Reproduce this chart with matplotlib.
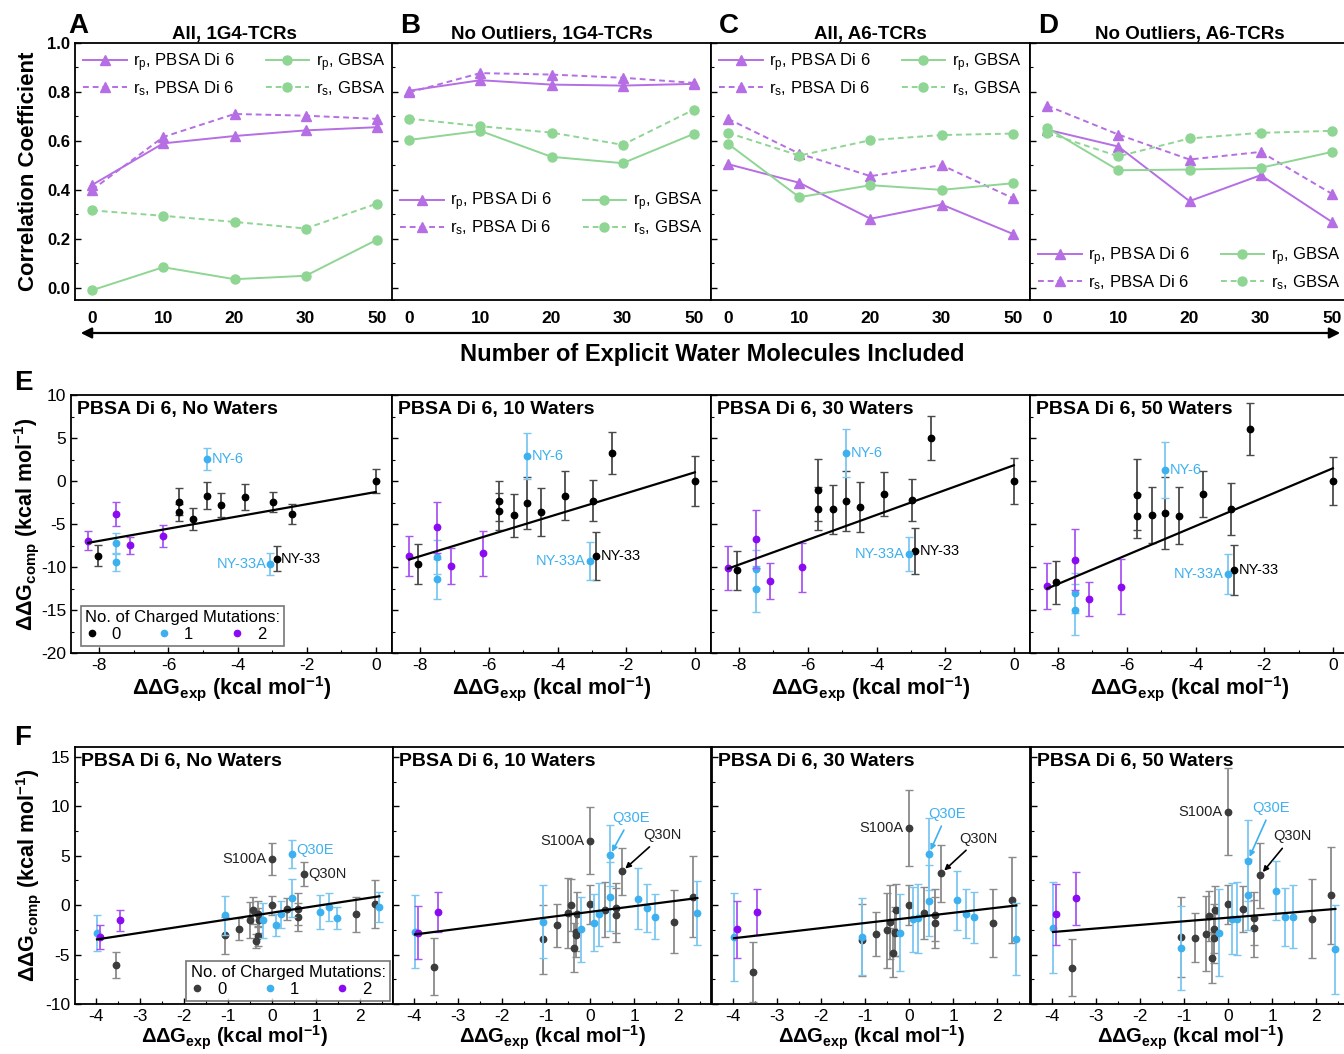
import numpy as np
import matplotlib
matplotlib.use('Agg')
import matplotlib.pyplot as plt
from matplotlib.lines import Line2D
from matplotlib.patches import FancyArrowPatch
from matplotlib.ticker import MultipleLocator, NullFormatter

plt.rcParams['font.family'] = ['Liberation Sans', 'DejaVu Sans']
plt.rcParams['mathtext.fontset'] = 'custom'
plt.rcParams['mathtext.rm'] = 'Liberation Sans'
plt.rcParams['mathtext.it'] = 'Liberation Sans:italic'
plt.rcParams['mathtext.bf'] = 'Liberation Sans:bold'
plt.rcParams['axes.unicode_minus'] = False

# ---------------- Row 1 data (correlation coefficients) ----------------
water_labels = ['0', '10', '20', '30', '50']
corr_titles = ['All, 1G4-TCRs', 'No Outliers, 1G4-TCRs', 'All, A6-TCRs', 'No Outliers, A6-TCRs']
corr_letters = ['A', 'B', 'C', 'D']

A_rp_pbsa = [0.42, 0.59, 0.62, 0.643, 0.656]
A_rs_pbsa = [0.40, 0.616, 0.71, 0.703, 0.69]
A_rp_gbsa = [-0.01, 0.084, 0.035, 0.049, 0.196]
A_rs_gbsa = [0.316, 0.294, 0.269, 0.242, 0.344]

B_rp_pbsa = [0.805, 0.848, 0.83, 0.826, 0.833]
B_rs_pbsa = [0.798, 0.877, 0.871, 0.858, 0.837]
B_rp_gbsa = [0.604, 0.641, 0.535, 0.509, 0.629]
B_rs_gbsa = [0.691, 0.66, 0.634, 0.584, 0.728]

C_rp_pbsa = [0.505, 0.429, 0.282, 0.34, 0.22]
C_rs_pbsa = [0.69, 0.548, 0.456, 0.501, 0.366]
C_rp_gbsa = [0.588, 0.37, 0.419, 0.40, 0.427]
C_rs_gbsa = [0.633, 0.54, 0.603, 0.624, 0.63]

D_rp_pbsa = [0.646, 0.577, 0.354, 0.46, 0.269]
D_rs_pbsa = [0.744, 0.626, 0.524, 0.555, 0.384]
D_rp_gbsa = [0.653, 0.48, 0.483, 0.49, 0.555]
D_rs_gbsa = [0.633, 0.537, 0.61, 0.633, 0.641]

# ---------------- Row 2 data (1G4-TCRs, panel E) ----------------
E_titles = ['PBSA Di 6, No Waters', 'PBSA Di 6, 10 Waters', 'PBSA Di 6, 30 Waters', 'PBSA Di 6, 50 Waters']
E_exp = [-8.32, -8.05, -7.52, -7.52, -7.52, -7.10, -6.16, -5.70, -5.70, -5.28,
         -4.88, -4.88, -4.47, -3.78, -2.96, -2.42, -3.05, -2.87, 0.0]
E_cat = [2, 0, 1, 1, 2, 2, 2, 0, 0, 0, 1, 0, 0, 0, 0, 0, 1, 0, 0]
E_names = ['', '', '', '', '', '', '', '', '', '', 'NY-6', '', '', '', '', '', 'NY-33A', 'NY-33', '']

E_comp_0 = [-6.96, -8.67, -7.19, -9.44, -3.89, -7.46, -6.37, -2.41, -3.65, -4.39,
            2.57, -1.71, -2.84, -1.87, -2.45, -3.85, -9.64, -9.02, 0.0]
E_err_0 = [1.1, 1.2, 1.2, 1.0, 1.4, 1.0, 1.3, 1.6, 1.0, 1.25, 1.3, 1.55, 1.4, 1.5, 1.2, 1.2, 1.25, 1.5, 1.4]
E_comp_10 = [-8.74, -9.64, -8.86, -11.39, -5.40, -9.91, -8.39, -2.33, -3.54, -4.0,
             2.91, -2.53, -3.61, -1.71, -2.29, 3.23, -9.33, -8.74, 0.0]
E_err_10 = [2.35, 2.3, 2.0, 2.3, 2.95, 2.1, 2.6, 2.3, 2.2, 2.5, 2.65, 3.0, 2.75, 2.85, 2.4, 2.45, 2.2, 2.8, 2.9]
E_comp_30 = [-10.1, -10.4, -10.2, -12.55, -6.72, -11.58, -10.03, -1.05, -3.23, -3.26,
             3.26, -2.33, -3.07, -1.52, -2.18, 5.01, -8.47, -8.12, 0.0]
E_err_30 = [2.6, 2.3, 2.2, 2.7, 3.4, 2.1, 2.85, 3.6, 2.5, 2.85, 2.75, 3.5, 2.9, 2.6, 2.45, 2.6, 1.95, 2.7, 2.7]
E_comp_50 = [-12.24, -11.78, -13.02, -14.96, -9.17, -13.72, -12.28, -1.59, -4.08, -3.96,
             1.28, -3.69, -4.04, -1.48, -3.26, 6.02, -10.8, -10.3, 0.0]
E_err_50 = [2.7, 2.5, 2.3, 2.95, 3.55, 2.0, 3.2, 4.1, 2.6, 3.25, 3.25, 4.2, 3.3, 2.7, 3.0, 3.05, 2.35, 2.9, 2.8]
E_fit_slope = [0.710, 1.219, 1.444, 1.681]
E_fit_intercept = [-1.28, 1.01, 1.83, 1.48]

# ---------------- Row 3 data (A6-TCRs, panel F) ----------------
F_exp = [-3.98, -3.91, -3.45, -3.55, -1.07, -1.07, -0.76, -0.50, -0.44, -0.36,
         -0.31, -0.29, -0.33, -0.20, 0.00, 0.00, 0.10, 0.20, 0.33, 0.46,
         0.45, 0.58, 0.58, 0.73, 1.10, 1.30, 1.47, 1.92, 2.35, 2.44]
F_cat = [1, 2, 2, 0, 1, 0, 0, 0, 0, 0, 0, 0, 0, 1, 0, 0, 1, 1, 0, 1,
         1, 0, 0, 0, 1, 1, 1, 0, 0, 1]
F_comp_0 = [-2.79, -3.22, -1.54, -6.07, -1.04, -3.05, -2.45, -1.48, -0.54, -3.62,
            -0.87, -1.54, -3.1, -1.54, -0.03, 4.7, -2.01, -0.94, -0.37, 0.74,
            5.17, -0.37, -1.17, 3.15, -0.7, -0.2, -1.28, -0.94, 0.13, -0.2]
F_err_0 = [1.8, 1.2, 1.05, 1.3, 2.0, 1.9, 1.1, 1.8, 1.4, 0.75, 1.3, 1.3, 1.0, 1.8, 1.0,
           1.6, 1.1, 1.4, 1.1, 1.9, 1.4, 1.6, 1.4, 1.2, 1.7, 1.45, 1.1, 1.8, 2.4, 1.55]
F_comp_10 = [-2.68, -2.79, -0.67, -6.24, -1.68, -3.46, -2.05, -0.8, 0.03, -4.3,
             -2.68, -0.87, -3.0, -2.45, 0.07, 6.51, -1.78, -0.94, -0.44, 0.87,
             5.03, -0.3, -1.0, 3.42, 0.64, -0.3, -1.17, -1.68, 0.84, -0.77]
F_err_10 = [3.7, 2.7, 2.05, 2.9, 3.7, 3.5, 2.2, 3.5, 2.6, 2.5, 2.0, 2.2, 2.2, 3.3, 1.95,
            3.4, 2.9, 3.2, 2.8, 3.5, 3.1, 2.5, 2.7, 2.35, 3.1, 2.45, 2.3, 3.2, 4.1, 3.25]
F_comp_30 = [-3.22, -2.45, -0.7, -6.74, -3.19, -3.52, -2.92, -2.55, -1.71, -4.8,
             -2.68, -0.44, -2.85, -2.79, 0.03, 7.85, -1.44, -1.34, -0.77, 0.47,
             5.17, -1.0, -1.78, 3.22, 0.5, -0.87, -1.24, -1.81, 0.5, -3.42]
F_err_30 = [4.5, 2.9, 2.35, 3.05, 3.9, 3.65, 2.25, 3.8, 3.7, 2.45, 2.5, 2.6, 2.3, 3.9, 2.0,
            3.85, 3.3, 3.5, 2.65, 3.6, 3.6, 2.6, 2.6, 2.9, 3.0, 2.5, 2.55, 3.45, 4.35, 3.65]
F_comp_50 = [-2.28, -0.94, 0.7, -6.31, -4.36, -3.22, -3.29, -2.89, -1.11, -5.3,
             -2.38, -0.54, -3.36, -2.79, 0.07, 9.46, -1.38, -1.38, -0.37, 1.07,
             4.5, -1.34, -2.35, 3.02, 1.48, -1.17, -1.17, -1.38, 1.0, -4.46]
F_err_50 = [4.6, 3.1, 2.7, 2.85, 4.25, 4.0, 2.45, 3.8, 2.5, 2.6, 2.5, 2.5, 2.5, 4.4, 2.0,
            4.4, 3.6, 3.7, 2.3, 3.6, 4.1, 2.7, 2.9, 3.3, 3.0, 2.95, 3.2, 4.0, 4.9, 4.5]
F_fit_slope = [0.679, 0.573, 0.516, 0.363]
F_fit_intercept = [-0.76, -0.68, -1.29, -1.27]
F_idx_S100A, F_idx_Q30E, F_idx_Q30N = 15, 20, 23

# ---------------- styling ----------------
W, H = 1344, 1054
PURPLE = '#B56EE3'
GREEN = '#8FD593'
E_COL = {0: '#000000', 1: '#3DB0F0', 2: '#8A0AF2'}
E_ECOL = {0: '#4A4A4A', 1: '#7CC7F2', 2: '#A855F5'}
F_COL = {0: '#3C3C3C', 1: '#3DB0F0', 2: '#8A0AF2'}
F_ECOL = {0: '#8A8A8A', 1: '#7CC7F2', 2: '#A855F5'}

fig = plt.figure(figsize=(W / 100, H / 100), dpi=100)


def fx(px):
    return px / W


def fy(py):
    return 1 - py / H


def style_box(ax):
    for s in ax.spines.values():
        s.set_linewidth(1.3)
    ax.tick_params(which='both', direction='in', top=False, right=False)
    ax.tick_params(which='major', length=4, width=1.0)
    ax.tick_params(which='minor', length=2, width=0.8)


# ---------------- Row 1 ----------------
corr_sets = [
    (A_rp_pbsa, A_rs_pbsa, A_rp_gbsa, A_rs_gbsa),
    (B_rp_pbsa, B_rs_pbsa, B_rp_gbsa, B_rs_gbsa),
    (C_rp_pbsa, C_rs_pbsa, C_rp_gbsa, C_rs_gbsa),
    (D_rp_pbsa, D_rs_pbsa, D_rp_gbsa, D_rs_gbsa),
]
row1_left = [75, 392, 711, 1030]
row1_w = 319
legend_pos = [('upper', 1.0), ('center', 0.335), ('upper', 1.0), ('lower', 0.0)]
for i in range(4):
    ax = fig.add_axes([fx(row1_left[i]), fy(300), fx(row1_w), (300 - 43) / H])
    style_box(ax)
    xs = np.arange(len(water_labels))
    rp_p, rs_p, rp_g, rs_g = corr_sets[i]
    ax.plot(xs, rp_p, '-', marker='^', color=PURPLE, ms=7.5, lw=1.4,
            label=r'r$_{\mathrm{p}}$, PBSA Di 6')
    ax.plot(xs, rs_p, '--', marker='^', color=PURPLE, ms=7.5, lw=1.4, dashes=(3, 2),
            label=r'r$_{\mathrm{s}}$, PBSA Di 6')
    ax.plot(xs, rp_g, '-', marker='o', color=GREEN, ms=6.5, lw=1.4,
            label=r'r$_{\mathrm{p}}$, GBSA')
    ax.plot(xs, rs_g, '--', marker='o', color=GREEN, ms=6.5, lw=1.4, dashes=(3, 2),
            label=r'r$_{\mathrm{s}}$, GBSA')
    ax.set_xlim(-0.24, 4.24)
    ax.set_ylim(-0.05, 1.0)
    ax.set_xticks(xs)
    ax.set_xticklabels(water_labels, fontsize=12.5, fontweight='bold')
    ax.yaxis.set_major_locator(MultipleLocator(0.2))
    ax.yaxis.set_minor_locator(MultipleLocator(0.1))
    ax.tick_params(axis='x', which='both', length=0, pad=8)
    if i == 0:
        ax.set_yticklabels([f'{v:.1f}' for v in ax.get_yticks()], fontsize=12, fontweight='bold')
        ax.set_ylabel('Correlation Coefficient', fontsize=16, fontweight='bold')
        ax.yaxis.set_label_coords(-0.112, 0.5)
    else:
        ax.yaxis.set_major_formatter(NullFormatter())
    where, yy = legend_pos[i]
    common = dict(ncol=2, frameon=False, fontsize=12, handlelength=2.6, mode='expand',
                  handletextpad=0.4, labelspacing=0.3, borderaxespad=0.3, borderpad=0.2)
    if where == 'upper':
        ax.legend(loc='upper left', bbox_to_anchor=(0.0, 1.0, 1.0, 0.0), **common)
    elif where == 'center':
        ax.legend(loc='center left', bbox_to_anchor=(0.0, yy, 1.0, 0.0), **common)
    else:
        ax.legend(loc='lower left', bbox_to_anchor=(0.0, 0.0, 1.0, 0.0), **common)
    fig.text(fx(row1_left[i] + (8 if i else -7)), fy(26), corr_letters[i], fontsize=20,
             fontweight='bold', va='center', ha='left')
    ax.set_title(corr_titles[i], fontsize=13.5, fontweight='bold', pad=3)

# arrow + common x label
arr = FancyArrowPatch((fx(78), fy(333)), (fx(1343), fy(333)), transform=fig.transFigure,
                      arrowstyle='<|-|>', mutation_scale=16, lw=1.6, color='black')
fig.add_artist(arr)
fig.text(fx(712), fy(354), 'Number of Explicit Water Molecules Included', fontsize=17,
         fontweight='bold', ha='center', va='center')


# ---------------- scatter panels ----------------
def scatter_panel(ax, xs, ys, errs, cats, cols, ecols, ms):
    xs = np.asarray(xs); ys = np.asarray(ys); errs = np.asarray(errs); cats = np.asarray(cats)
    for c in [0, 1, 2]:
        m = cats == c
        ax.errorbar(xs[m], ys[m], yerr=errs[m], fmt='o', ms=ms, color=cols[c], ecolor=ecols[c],
                    elinewidth=1.3, capsize=2.8, capthick=1.0, zorder=3 + c * 0.1)


xlabel_txt = r'ΔΔG$_{\mathbf{exp}}$ (kcal mol$^{\mathbf{-1}}$)'
ylabel_txt = r'ΔΔG$_{\mathbf{comp}}$ (kcal mol$^{\mathbf{-1}}$)'
LEG_KW = dict(ncol=3, title='No. of Charged Mutations:', title_fontsize=12, fontsize=12,
              frameon=True, fancybox=False, edgecolor='#555555', handlelength=0.8,
              handletextpad=0.8, columnspacing=2.2, borderpad=0.25, labelspacing=0.1,
              alignment='left', borderaxespad=0.2)

E_comp = [E_comp_0, E_comp_10, E_comp_30, E_comp_50]
E_err = [E_err_0, E_err_10, E_err_30, E_err_50]
E_left = [71, 392, 711, 1030]
for i in range(4):
    ax = fig.add_axes([fx(E_left[i]), fy(653), fx(319 if i else 321), (653 - 395) / H])
    style_box(ax)
    scatter_panel(ax, E_exp, E_comp[i], E_err[i], E_cat, E_COL, E_ECOL, 4.6)
    xl = np.array([min(E_exp), max(E_exp)])
    ax.plot(xl, E_fit_slope[i] * xl + E_fit_intercept[i], color='black', lw=1.6, zorder=5)
    ax.set_xlim(-8.82, 0.47)
    ax.set_ylim(-20, 10)
    ax.xaxis.set_major_locator(MultipleLocator(2))
    ax.xaxis.set_minor_locator(MultipleLocator(1))
    ax.yaxis.set_major_locator(MultipleLocator(5))
    ax.yaxis.set_minor_locator(MultipleLocator(2.5))
    ax.tick_params(labelsize=12.5)
    if i > 0:
        ax.yaxis.set_major_formatter(NullFormatter())
    else:
        ax.set_ylabel(ylabel_txt, fontsize=15.5, fontweight='bold')
        ax.yaxis.set_label_coords(-0.095, 0.5)
    ax.set_xlabel(xlabel_txt, fontsize=15.5, fontweight='bold', labelpad=1)
    ax.text(0.02, 0.975, E_titles[i], transform=ax.transAxes, fontsize=14,
            fontweight='bold', va='top', ha='left')
    for k, nm in enumerate(E_names):
        if not nm:
            continue
        col = E_COL[E_cat[k]]
        if nm == 'NY-33A':
            ax.annotate(nm, (E_exp[k], E_comp[i][k]), xytext=(-3, 0), textcoords='offset points',
                        ha='right', va='center', fontsize=10.5, color=col)
        else:
            ax.annotate(nm, (E_exp[k], E_comp[i][k]), xytext=(3, 0), textcoords='offset points',
                        ha='left', va='center', fontsize=10.5, color=col)
    if i == 0:
        handles = [Line2D([], [], marker='o', ls='none', ms=4.5, color=E_COL[c]) for c in [0, 1, 2]]
        lg = ax.legend(handles, ['0', '1', '2'], loc='lower left', bbox_to_anchor=(0.02, 0.015), **LEG_KW)
        lg.get_frame().set_linewidth(1.2)
fig.text(fx(14), fy(383), 'E', fontsize=20, fontweight='bold', va='center', ha='left')

F_comp = [F_comp_0, F_comp_10, F_comp_30, F_comp_50]
F_err = [F_err_0, F_err_10, F_err_30, F_err_50]
F_left = [75, 393, 712, 1031]
F_q30e_off = [(3, 3), (15, 27), (13, 29), (17, 38)]
F_q30n_off = [(3, 0), (29, 26), (27, 25), (23, 28)]
for i in range(4):
    ax = fig.add_axes([fx(F_left[i]), fy(1004), fx(318), (1004 - 747) / H])
    style_box(ax)
    scatter_panel(ax, F_exp, F_comp[i], F_err[i], F_cat, F_COL, F_ECOL, 4.6)
    xl = np.array([min(F_exp), max(F_exp)])
    ax.plot(xl, F_fit_slope[i] * xl + F_fit_intercept[i], color='black', lw=1.6, zorder=5)
    ax.set_xlim(-4.48, 2.75)
    ax.set_ylim(-10, 16)
    ax.xaxis.set_major_locator(MultipleLocator(1))
    ax.xaxis.set_minor_locator(MultipleLocator(0.5))
    ax.yaxis.set_major_locator(MultipleLocator(5))
    ax.yaxis.set_minor_locator(MultipleLocator(2.5))
    ax.tick_params(labelsize=12.5)
    if i > 0:
        ax.yaxis.set_major_formatter(NullFormatter())
    else:
        ax.set_ylabel(ylabel_txt, fontsize=15.5, fontweight='bold')
        ax.yaxis.set_label_coords(-0.10, 0.5)
    ax.set_xlabel(xlabel_txt, fontsize=14.5, fontweight='bold', labelpad=0)
    ax.text(0.02, 0.975, E_titles[i], transform=ax.transAxes, fontsize=14,
            fontweight='bold', va='top', ha='left')
    y = F_comp[i]
    ax.annotate('S100A', (F_exp[F_idx_S100A], y[F_idx_S100A]), xytext=(-4, 0),
                textcoords='offset points', ha='right', va='center', fontsize=10.5, color='#222222')
    blue = F_COL[1]
    if i == 0:
        ax.annotate('Q30E', (F_exp[F_idx_Q30E], y[F_idx_Q30E]), xytext=F_q30e_off[i],
                    textcoords='offset points', ha='left', va='center', fontsize=10.5, color=blue)
        ax.annotate('Q30N', (F_exp[F_idx_Q30N], y[F_idx_Q30N]), xytext=F_q30n_off[i],
                    textcoords='offset points', ha='left', va='center', fontsize=10.5, color='#222222')
    else:
        ax.annotate('Q30E', (F_exp[F_idx_Q30E], y[F_idx_Q30E]), xytext=F_q30e_off[i],
                    textcoords='offset points', ha='center', va='center', fontsize=10.5, color=blue,
                    arrowprops=dict(arrowstyle='-|>', color=blue, lw=1.2, mutation_scale=8,
                                    shrinkA=2, shrinkB=3))
        ax.annotate('Q30N', (F_exp[F_idx_Q30N], y[F_idx_Q30N]), xytext=F_q30n_off[i],
                    textcoords='offset points', ha='center', va='center', fontsize=10.5, color='#222222',
                    arrowprops=dict(arrowstyle='-|>', color='black', lw=1.2, mutation_scale=8,
                                    shrinkA=2, shrinkB=3))
    if i == 0:
        handles = [Line2D([], [], marker='o', ls='none', ms=4.5, color=F_COL[c]) for c in [0, 1, 2]]
        lg = ax.legend(handles, ['0', '1', '2'], loc='lower right', bbox_to_anchor=(1.0, 0.0), **LEG_KW)
        lg.get_frame().set_linewidth(1.2)
fig.text(fx(14), fy(738), 'F', fontsize=20, fontweight='bold', va='center', ha='left')

fig.savefig('out.png', dpi=100)
